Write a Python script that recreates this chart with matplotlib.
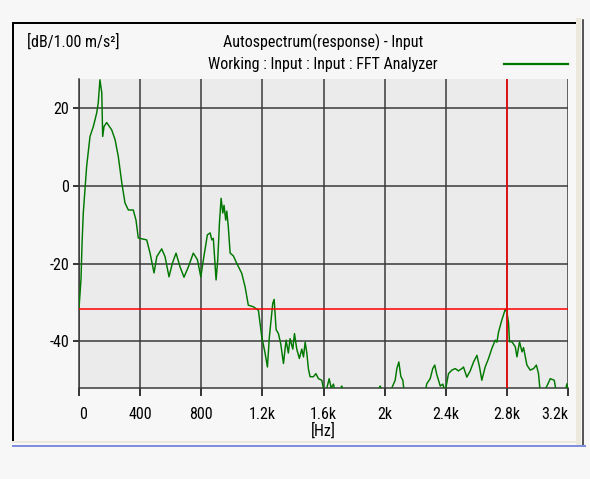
import matplotlib
matplotlib.use("Agg")
import matplotlib.pyplot as plt
from matplotlib.lines import Line2D
from matplotlib import font_manager

# spectrum: frequency [Hz], level [dB]
FREQ = [0, 13, 20, 28, 39, 50, 72, 94, 116, 126, 137, 149, 155, 164, 181,
        214, 236, 257, 280, 301, 323, 355, 373, 388, 443, 465, 491, 509, 541,
        563, 589, 611, 635, 661, 687, 716, 748, 775, 797, 814, 840, 858, 869,
        879, 897, 908, 919, 930, 941, 949, 960, 967, 977, 989, 1010, 1032,
        1065, 1087, 1108, 1141, 1174, 1196, 1218, 1233, 1246, 1268, 1277,
        1290, 1305, 1320, 1338, 1355, 1370, 1381, 1399, 1410, 1425, 1442,
        1458, 1469, 1480, 1491, 1501, 1512, 1534, 1550, 1567, 1589, 1604,
        1622, 1637, 1650, 1665, 1676, 1698, 1720, 1730, 1760, 1900, 1971,
        1997, 2036, 2069, 2080, 2093, 2106, 2119, 2128, 2200, 2265, 2276,
        2298, 2315, 2328, 2341, 2364, 2381, 2396, 2418, 2440, 2462, 2483,
        2506, 2516, 2538, 2560, 2582, 2604, 2621, 2636, 2658, 2680, 2702,
        2724, 2735, 2745, 2767, 2789, 2800, 2811, 2817, 2833, 2855, 2866,
        2883, 2899, 2909, 2931, 2953, 2975, 2993, 3007, 3018, 3040, 3062,
        3084, 3110, 3123, 3182, 3193, 3200]
LEVEL = [-31.5, -24, -14.7, -7, -1, 5, 12.7, 15.3, 18.8, 21.4, 27.3, 24,
         12.7, 15.3, 16.3, 14.4, 11.9, 7.6, 0.8, -4.4, -6.2, -6.2, -8.8,
         -13.4, -13.9, -17.3, -22.4, -18.2, -16.2, -18.2, -23.4, -19.9,
         -17.3, -20.8, -23.5, -20.8, -17.3, -19, -23.4, -19, -12.6, -12.1,
         -13.9, -13.5, -24.2, -19, -9.6, -3.2, -7, -5, -8.8, -6.5, -10.5,
         -17.3, -18, -19.9, -22.5, -26, -30.7, -31.1, -32, -38.8, -43.1,
         -46.6, -38.8, -30.2, -29.2, -37, -38, -40.6, -45.7, -39.7, -43,
         -39.3, -42, -38, -42, -44.4, -42, -44, -40.2, -43, -47, -49.1,
         -49.1, -48.3, -49.6, -50, -53, -52, -49.6, -52, -51, -53, -53,
         -51.5, -53, -56, -57, -51.5, -54, -53, -50, -47, -45.3, -49, -50,
         -53, -56, -53, -50.9, -49.6, -47, -46.1, -48.5, -51.5, -51, -53,
         -48.3, -47.4, -47, -47.6, -47, -46.6, -49.2, -47.6, -45.3, -43.6,
         -46.6, -50, -46.6, -44.4, -41.8, -39.7, -40.2, -37.7, -34.5, -31.8,
         -32.4, -35.3, -40.1, -40.1, -41.4, -44, -40.1, -42.7, -41.6, -46.1,
         -47.4, -47, -46.1, -48.3, -53, -53, -51.5, -49.6, -50, -53, -53,
         -50.9, -53]

CURSOR_F = 2800
CURSOR_DB = -31.6
XTICKS = [0, 400, 800, 1200, 1600, 2000, 2400, 2800, 3200]
XLABELS = ["0", "400", "800", "1.2k", "1.6k", "2k", "2.4k", "2.8k", "3.2k"]
YTICKS = [20, 0, -20, -40]

W, H = 590, 479
names = {f.name for f in font_manager.fontManager.ttflist}
FONT = [n for n in ["Liberation Sans Narrow", "DejaVu Sans Condensed",
                    "Roboto Condensed"] if n in names] + ["DejaVu Sans"]
plt.rcParams["font.family"] = FONT
plt.rcParams["axes.unicode_minus"] = False
FS = 11.5 if len(FONT) > 1 else 9.5
GREEN = "#007800"
GRID = "#3a3a3a"


def px(x, y):
    return x / W, 1 - y / H


fig = plt.figure(figsize=(W / 100, H / 100), dpi=100, facecolor="#f7f7f7")

# window frame
for (x0, y0), (x1, y1), c, lw in [
        ((13, 23), (575, 23), "black", 2),
        ((13, 23), (13, 442), "black", 2),
        ((13, 442), (576, 442), "#ece8dc", 2),
        ((578, 20), (578, 443), "#ece8dc", 5),
        ((583, 20), (583, 445), "#303030", 1.6),
        ((13, 446), (585, 446), "#7f8fe0", 2)]:
    a, b = px(x0, y0)
    c2, d = px(x1, y1)
    fig.add_artist(Line2D([a, c2], [b, d], color=c, lw=lw * 0.72))

l, t = px(79, 79)
r, b = px(568, 388)
ax = fig.add_axes([l, b, r - l, t - b])
ax.set_facecolor("#ebebeb")
ax.set_xlim(0, 3200)
ax.set_ylim(-52, 27.5)

ax.set_xticks(XTICKS)
ax.set_xticklabels(XLABELS)
ax.set_yticks(YTICKS)
ax.grid(True, color=GRID, lw=1.1)
ax.tick_params(axis="both", labelsize=FS, color="black", width=1.1,
               direction="out")
ax.tick_params(axis="x", length=6, pad=8)
ax.tick_params(axis="y", length=4, pad=3)
labs = ax.get_xticklabels()
labs[0].set_ha("left")
labs[-1].set_ha("right")
for s in ["top", "right"]:
    ax.spines[s].set_visible(False)
for s in ["left", "bottom"]:
    ax.spines[s].set_color(GRID)
    ax.spines[s].set_linewidth(1.1)

ax.plot(FREQ, LEVEL, color=GREEN, lw=1.05, zorder=3)
ax.axhline(CURSOR_DB, color="red", lw=1.1, zorder=4)
ax.axvline(CURSOR_F, color="red", lw=1.1, zorder=4)
ax.set_xlabel("[Hz]", fontsize=FS, labelpad=0)

# header texts
fig.text(*px(27, 42), "[dB/1.00 m/s²]", fontsize=FS, va="center")
fig.text(*px(323, 42), "Autospectrum(response) - Input", fontsize=FS,
         ha="center", va="center")
fig.text(*px(323, 65), "Working : Input : Input : FFT Analyzer",
         fontsize=FS, ha="center", va="center")
a, y = px(504, 64)
c2, _ = px(568, 64)
fig.add_artist(Line2D([a, c2], [y, y], color=GREEN, lw=1.6))

fig.savefig("out.png", dpi=100, facecolor=fig.get_facecolor())
